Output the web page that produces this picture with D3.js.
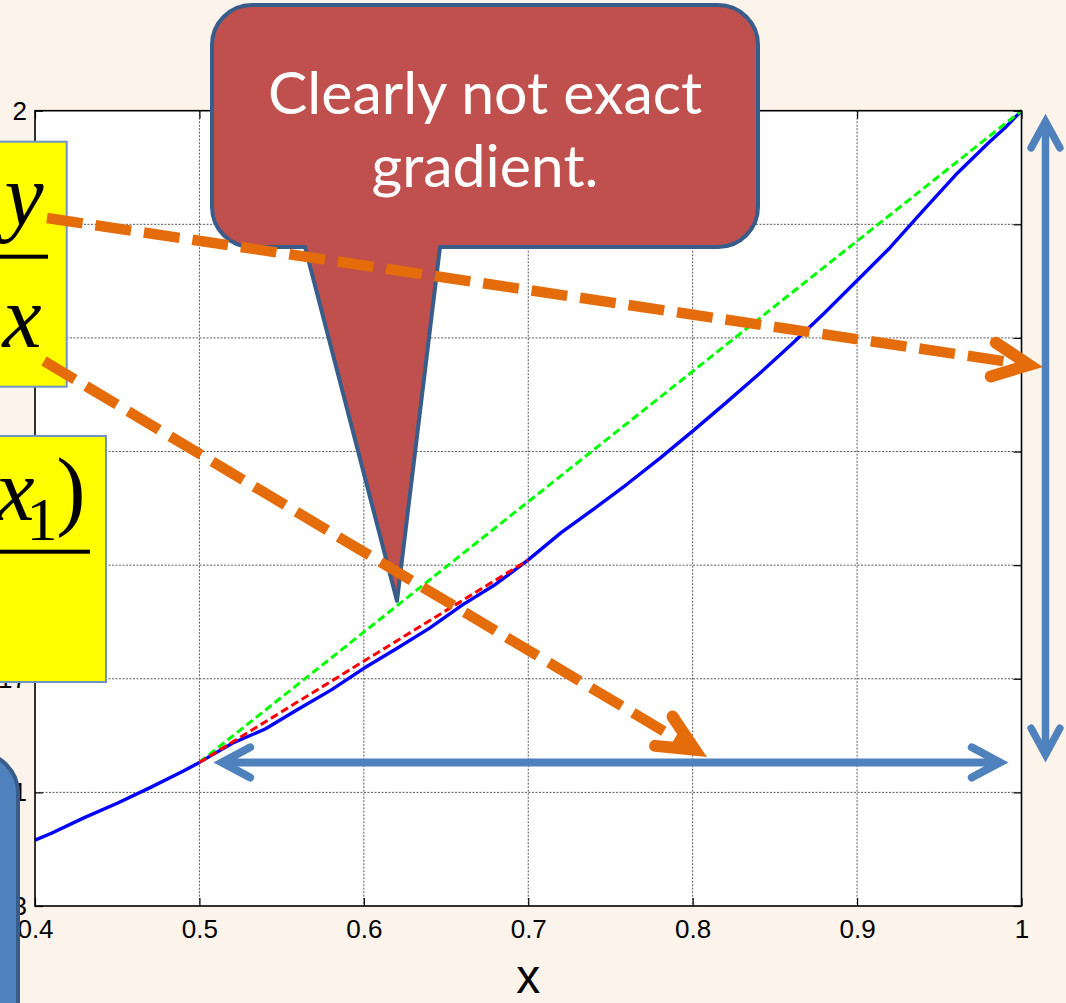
<!DOCTYPE html>
<html>
<head>
<meta charset="utf-8">
<script src="https://cdn.jsdelivr.net/npm/d3@7"></script>
<style>
  html, body { margin: 0; padding: 0; background: #FCF3EA; }
  svg { display: block; }
</style>
</head>
<body>
<svg id="chart" width="1066" height="1003"></svg>
<script>
// ---- data ----
const xTicks = [0.4, 0.5, 0.6, 0.7, 0.8, 0.9, 1];
const xTickLabels = ["0.4", "0.5", "0.6", "0.7", "0.8", "0.9", "1"];
const yTicks = [5/6, 1, 7/6, 4/3, 3/2, 5/3, 11/6, 2];
const yTickLabels = ["0.83", "1", "1.17", "1.33", "1.5", "1.67", "1.83", "2"];

// sampled function y(x)
const curveX = [0.40, 0.41, 0.43, 0.45, 0.47, 0.49, 0.50, 0.52, 0.54, 0.56, 0.58, 0.60,
                0.62, 0.64, 0.66, 0.68, 0.70, 0.72, 0.74, 0.76, 0.78, 0.80, 0.82, 0.84,
                0.86, 0.88, 0.90, 0.92, 0.94, 0.96, 0.98, 0.99, 1.00];
const curveY = [0.930, 0.940, 0.963, 0.984, 1.007, 1.031, 1.044, 1.072, 1.093, 1.122, 1.150, 1.182,
                1.211, 1.241, 1.275, 1.305, 1.341, 1.381, 1.416, 1.452, 1.490, 1.530, 1.571, 1.613,
                1.657, 1.703, 1.751, 1.799, 1.853, 1.906, 1.953, 1.975, 2.000];

// secant over [0.5, 0.7] and secant over [0.5, 1]
const secantNearX = [0.5, 0.7];
const secantNearY = [1.044, 1.341];
const secantFarX = [0.5, 1.0];
const secantFarY = [1.044, 2.0];

const calloutLines = ["Clearly not exact", "gradient."];
const xLabel = "x";

// ---- layout ----
const W = 1066, H = 1003;
const plot = { left: 35, right: 1021.5, top: 110.7, bottom: 906 };
const svg = d3.select("#chart");

const x = d3.scaleLinear().domain([0.4, 1]).range([plot.left, plot.right]);
const y = d3.scaleLinear().domain([5/6, 2]).range([plot.bottom, plot.top]);

svg.append("rect").attr("width", W).attr("height", H).attr("fill", "#FCF3EA");
svg.append("rect")
  .attr("x", plot.left).attr("y", plot.top)
  .attr("width", plot.right - plot.left).attr("height", plot.bottom - plot.top)
  .attr("fill", "#ffffff");

// grid
const grid = svg.append("g").attr("stroke", "#5a5a5a").attr("stroke-width", 1)
  .attr("stroke-dasharray", "2,1.5");
grid.selectAll("line.gx").data(xTicks.slice(1, -1)).join("line")
  .attr("class", "gx")
  .attr("x1", d => x(d)).attr("x2", d => x(d))
  .attr("y1", plot.top).attr("y2", plot.bottom);
grid.selectAll("line.gy").data(yTicks.slice(1, -1)).join("line")
  .attr("class", "gy")
  .attr("x1", plot.left).attr("x2", plot.right)
  .attr("y1", d => y(d)).attr("y2", d => y(d));

// lines
const line = d3.line().x(d => x(d[0])).y(d => y(d[1]));
svg.append("path")
  .datum(curveX.map((v, i) => [v, curveY[i]]))
  .attr("d", line).attr("fill", "none")
  .attr("stroke", "#0000FF").attr("stroke-width", 3.4).attr("stroke-linejoin", "round");
svg.append("path")
  .datum(secantFarX.map((v, i) => [v, secantFarY[i]]))
  .attr("d", line).attr("fill", "none")
  .attr("stroke", "#00FF00").attr("stroke-width", 3).attr("stroke-dasharray", "8,4");
svg.append("path")
  .datum(secantNearX.map((v, i) => [v, secantNearY[i]]))
  .attr("d", line).attr("fill", "none")
  .attr("stroke", "#FF0000").attr("stroke-width", 3).attr("stroke-dasharray", "8,4");

// axes
const tickFont = "'Liberation Sans', Arial, Helvetica, sans-serif";
function styleAxis(g) {
  g.select(".domain").remove();
  g.selectAll("line").attr("stroke", "#000").attr("stroke-width", 1.2);
  g.selectAll("text").attr("font-family", tickFont).attr("font-size", 26).attr("fill", "#000");
}
svg.append("g").attr("transform", `translate(0,${plot.bottom})`)
  .call(d3.axisBottom(x).tickValues(xTicks).tickFormat((d, i) => xTickLabels[i])
    .tickSizeInner(-8).tickSizeOuter(0).tickPadding(14))
  .call(styleAxis);
svg.append("g").attr("transform", `translate(0,${plot.top})`)
  .call(d3.axisTop(x).tickValues(xTicks).tickFormat("")
    .tickSizeInner(-8).tickSizeOuter(0))
  .call(styleAxis);
svg.append("g").attr("transform", `translate(${plot.left},0)`)
  .call(d3.axisLeft(y).tickValues(yTicks).tickFormat((d, i) => yTickLabels[i])
    .tickSizeInner(-8).tickSizeOuter(0).tickPadding(8))
  .call(styleAxis);
svg.append("g").attr("transform", `translate(${plot.right},0)`)
  .call(d3.axisRight(y).tickValues(yTicks).tickFormat("")
    .tickSizeInner(-8).tickSizeOuter(0))
  .call(styleAxis);

svg.append("rect")
  .attr("x", plot.left).attr("y", plot.top)
  .attr("width", plot.right - plot.left).attr("height", plot.bottom - plot.top)
  .attr("fill", "none").attr("stroke", "#000").attr("stroke-width", 1.6);

svg.append("text").attr("x", (plot.left + plot.right) / 2).attr("y", 993)
  .attr("text-anchor", "middle").attr("font-family", tickFont).attr("font-size", 48)
  .attr("fill", "#000").text(xLabel);

// ---- annotations ----
// rounded blue panel at the lower left
svg.append("rect").attr("x", -200).attr("y", 753).attr("width", 218).attr("height", 400)
  .attr("rx", 40).attr("fill", "#4F81BD").attr("stroke", "#385D8A").attr("stroke-width", 4);

// yellow formula boxes
const mathFont = "'Liberation Serif', 'Times New Roman', serif";
svg.append("rect").attr("x", -10).attr("y", 141.7).attr("width", 76.7).attr("height", 245)
  .attr("fill", "#FFFF00").attr("stroke", "#6F93C6").attr("stroke-width", 2);
svg.append("text").attr("x", 24).attr("y", 225).attr("text-anchor", "middle")
  .attr("font-family", mathFont).attr("font-style", "italic").attr("font-size", 88).text("y");
svg.append("rect").attr("x", -2).attr("y", 254.7).attr("width", 50).attr("height", 4).attr("fill", "#000");
svg.append("text").attr("x", 22).attr("y", 347).attr("text-anchor", "middle")
  .attr("font-family", mathFont).attr("font-style", "italic").attr("font-size", 88).text("x");

svg.append("rect").attr("x", -10).attr("y", 436).attr("width", 116).attr("height", 246)
  .attr("fill", "#FFFF00").attr("stroke", "#6F93C6").attr("stroke-width", 2);
svg.append("text").attr("x", 15).attr("y", 520).attr("text-anchor", "middle")
  .attr("font-family", mathFont).attr("font-style", "italic").attr("font-size", 88).text("x");
svg.append("text").attr("x", 42).attr("y", 540).attr("text-anchor", "middle")
  .attr("font-family", mathFont).attr("font-size", 62).text("1");
svg.append("text").attr("x", 71).attr("y", 519).attr("text-anchor", "middle")
  .attr("font-family", mathFont).attr("font-size", 88).text(")");
svg.append("rect").attr("x", -2).attr("y", 549.7).attr("width", 92).attr("height", 4).attr("fill", "#000");

// callout
const cb = { l: 212, r: 758, t: 5, b: 247, rad: 40 };
const tip = [397, 601], baseL = 305, baseR = 440;
const cp = d3.path();
cp.moveTo(cb.l + cb.rad, cb.t);
cp.lineTo(cb.r - cb.rad, cb.t);
cp.arcTo(cb.r, cb.t, cb.r, cb.t + cb.rad, cb.rad);
cp.lineTo(cb.r, cb.b - cb.rad);
cp.arcTo(cb.r, cb.b, cb.r - cb.rad, cb.b, cb.rad);
cp.lineTo(baseR, cb.b);
cp.lineTo(tip[0], tip[1]);
cp.lineTo(baseL, cb.b);
cp.lineTo(cb.l + cb.rad, cb.b);
cp.arcTo(cb.l, cb.b, cb.l, cb.b - cb.rad, cb.rad);
cp.lineTo(cb.l, cb.t + cb.rad);
cp.arcTo(cb.l, cb.t, cb.l + cb.rad, cb.t, cb.rad);
cp.closePath();
svg.append("path").attr("d", cp.toString())
  .attr("fill", "#C0504D").attr("stroke", "#385D8A").attr("stroke-width", 4)
  .attr("stroke-linejoin", "round");
svg.selectAll("text.callout").data(calloutLines).join("text")
  .attr("class", "callout")
  .attr("x", (cb.l + cb.r) / 2).attr("y", (d, i) => 114 + i * 73)
  .attr("text-anchor", "middle").attr("fill", "#ffffff")
  .attr("font-family", "Lato, 'Open Sans', sans-serif").attr("font-size", 59)
  .text(d => d);

// arrow helpers
function arrowHead(g, tipPt, dir, len, half, width, color) {
  const n = Math.hypot(dir[0], dir[1]);
  const ux = dir[0] / n, uy = dir[1] / n;
  const back = (width / 2) / Math.sin(half);
  const vx = tipPt[0] - ux * back, vy = tipPt[1] - uy * back;
  const arm = s => {
    const a = Math.atan2(-uy, -ux) + s * half;
    return [vx + len * Math.cos(a), vy + len * Math.sin(a)];
  };
  const a1 = arm(1), a2 = arm(-1);
  g.append("path")
    .attr("d", `M${a1[0]},${a1[1]}L${vx},${vy}L${a2[0]},${a2[1]}`)
    .attr("fill", "none").attr("stroke", color).attr("stroke-width", width)
    .attr("stroke-linecap", "round").attr("stroke-linejoin", "miter").attr("stroke-miterlimit", 10);
}

// blue double arrows: run (dx) and rise (dy)
const blue = "#4F81BD";
const ann = svg.append("g");
const hy = y(secantFarY[0]);
const hL = [x(secantFarX[0]) + 14, hy], hR = [x(secantFarX[1]) - 13, hy];
ann.append("line").attr("x1", hL[0] + 8).attr("x2", hR[0] - 8).attr("y1", hy).attr("y2", hy)
  .attr("stroke", blue).attr("stroke-width", 8);
arrowHead(ann, hL, [-1, 0], 32, 0.49, 8, blue);
arrowHead(ann, hR, [1, 0], 32, 0.49, 8, blue);

const vx = x(secantFarX[1]) + 24;
const vT = [vx, y(secantFarY[1]) + 3], vB = [vx, hy];
ann.append("line").attr("x1", vx).attr("x2", vx).attr("y1", vT[1] + 8).attr("y2", vB[1] - 8)
  .attr("stroke", blue).attr("stroke-width", 7.5);
arrowHead(ann, vT, [0, -1], 30, 0.5, 7.5, blue);
arrowHead(ann, vB, [0, 1], 30, 0.5, 7.5, blue);

// orange dashed pointers from the fraction to the two blue arrows
const orange = "#E46C0A";
const pointers = [
  { from: [47, 218], to: [1043, 367] },
  { from: [44, 361], to: [707, 757] }
];
pointers.forEach(p => {
  const dx = p.to[0] - p.from[0], dy = p.to[1] - p.from[1];
  const n = Math.hypot(dx, dy);
  const end = [p.to[0] - dx / n * 14, p.to[1] - dy / n * 14];
  svg.append("line")
    .attr("x1", p.from[0]).attr("y1", p.from[1]).attr("x2", end[0]).attr("y2", end[1])
    .attr("stroke", orange).attr("stroke-width", 10.5).attr("stroke-dasharray", "36,13");
  arrowHead(svg, p.to, [dx, dy], 40, 0.44, 12, orange);
});
</script>
</body>
</html>
